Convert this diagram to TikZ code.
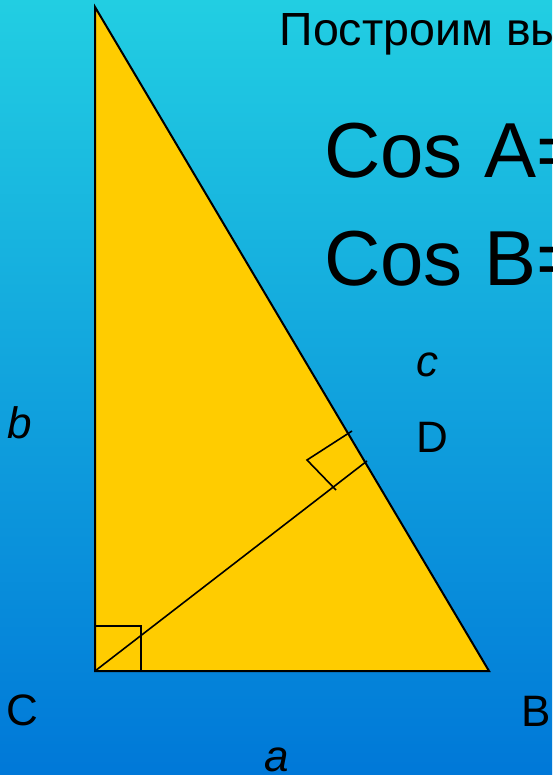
\documentclass[tikz,border=0pt]{standalone}
\usepackage{fontspec}
\setmainfont{Liberation Sans}
\begin{document}
\begin{tikzpicture}[x=1pt,y=-1pt,
  lbl/.style={anchor=base west,inner sep=0pt,font=\fontsize{44}{50}\selectfont},
  ilbl/.style={lbl,font=\fontsize{44}{50}\selectfont\itshape},
  head/.style={anchor=base west,inner sep=0pt,font=\fontsize{46.5}{52}\selectfont},
  big/.style={anchor=base west,inner sep=0pt,font=\fontsize{78}{90}\selectfont},
  edge/.style={line width=2pt},
  thin/.style={line width=1.6pt}]
\definecolor{bgtop}{RGB}{34,206,226}
\definecolor{bgmid}{RGB}{16,168,224}
\definecolor{bgbot}{RGB}{0,120,216}
\definecolor{tri}{RGB}{255,204,0}
\useasboundingbox (0,0) rectangle (552,775);
\clip (0,0) rectangle (552,775);
\shade[top color=bgtop,middle color=bgmid,bottom color=bgbot] (0,0) rectangle (552,775);
% vertices
\coordinate (A) at (95,7);
\coordinate (C) at (95,671);
\coordinate (B) at (489,671);
\coordinate (H) at (367,461);
\coordinate (m1) at (352,431);
\coordinate (m2) at (307,460);
\coordinate (m3) at (336,490);
\coordinate (s1) at (95,626);
\coordinate (s2) at (141,626);
\coordinate (s3) at (141,671);
\filldraw[fill=tri,edge] (A) -- (C) -- (B) -- cycle;
\draw[thin] (C) -- (H);
\draw[thin] (m1) -- (m2) -- (m3);
\draw[thin] (s1) -- (s2) -- (s3);
% texts
\node[head] (t1) at (279.5,46) {Построим вы};
\node[big] (cA) at (324,178) {Cos A=};
\node[big] (cB) at (324,285) {Cos B=};
\node[ilbl] (lc) at (416,376) {c};
\node[lbl] (lD) at (416,452.5) {D};
\node[ilbl] (lb) at (7,438.5) {b};
\node[lbl] (lC) at (6.5,725) {C};
\node[lbl] (lB) at (521.5,726) {B};
\node[ilbl] (la) at (264,771) {a};
\end{tikzpicture}
\end{document}
